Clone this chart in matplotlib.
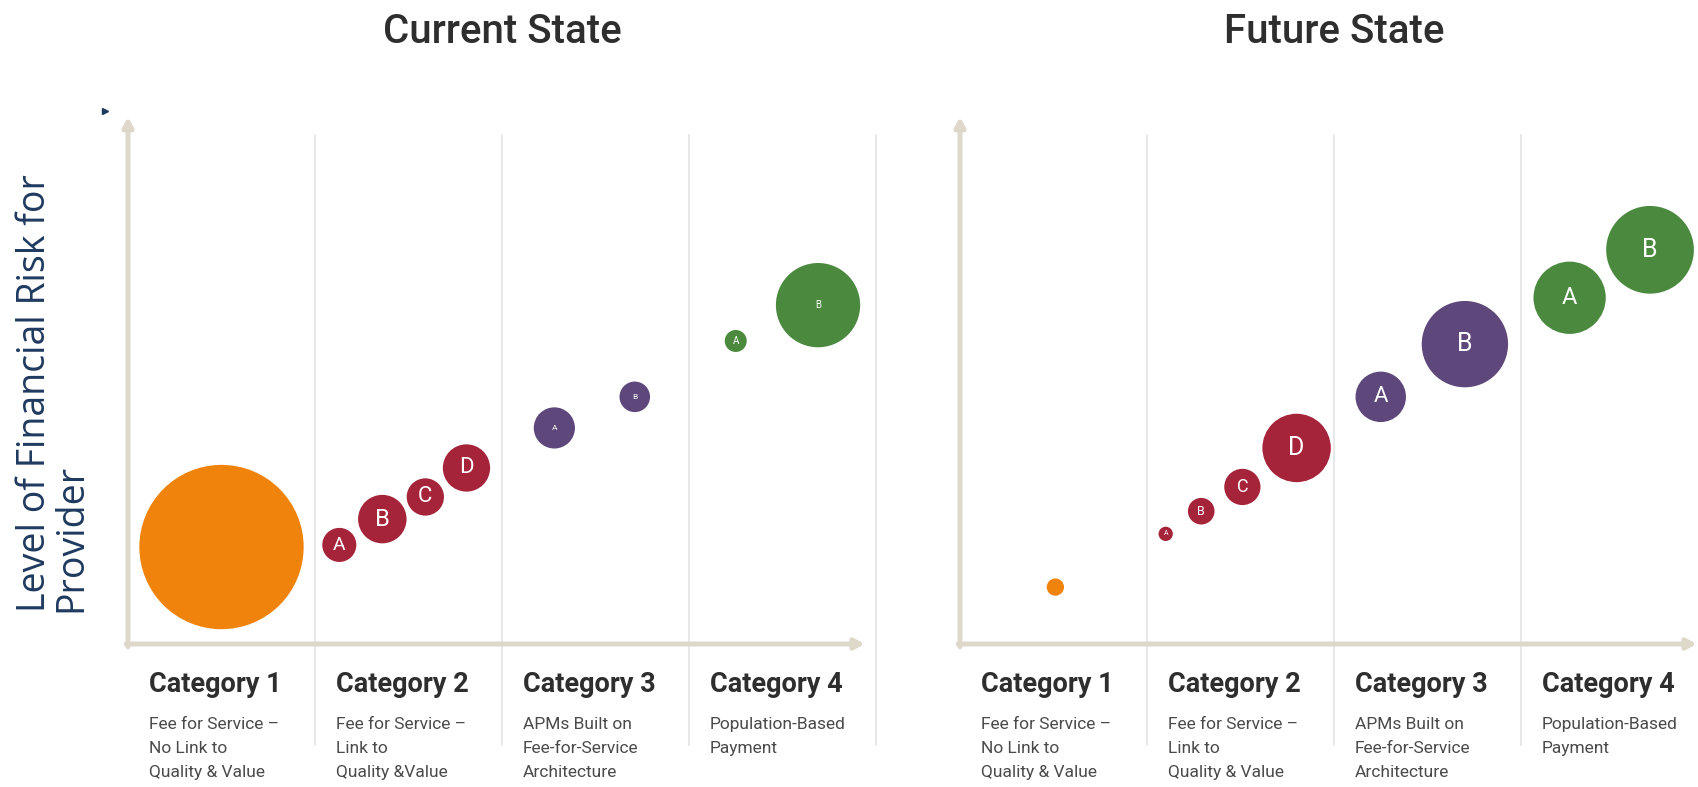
import matplotlib
matplotlib.use("Agg")
import matplotlib.pyplot as plt

# Categories along the horizontal axis
categories = ["Category 1", "Category 2", "Category 3", "Category 4"]
cur_descriptions = [
    "Fee for Service –\nNo Link to\nQuality & Value",
    "Fee for Service –\nLink to\nQuality &Value",
    "APMs Built on\nFee-for-Service\nArchitecture",
    "Population-Based\nPayment",
]
fut_descriptions = [
    "Fee for Service –\nNo Link to\nQuality & Value",
    "Fee for Service –\nLink to\nQuality & Value",
    "APMs Built on\nFee-for-Service\nArchitecture",
    "Population-Based\nPayment",
]

# One bubble per payment sub-type (category index 0..3 + letter)
bubble_group = [0, 1, 1, 1, 1, 2, 2, 3, 3]
bubble_labels = ["", "A", "B", "C", "D", "A", "B", "A", "B"]

# Current state: position on the category scale, risk level, bubble volume
cur_x = [0.50, 1.13, 1.36, 1.59, 1.81, 2.28, 2.71, 3.25, 3.69]
cur_risk = [1.84, 1.88, 2.37, 2.79, 3.34, 4.10, 4.69, 5.75, 6.43]
cur_volume = [69.0, 3.2, 6.3, 3.8, 6.0, 4.6, 2.6, 1.4, 18.5]

# Future state
fut_x = [0.51, 1.10, 1.29, 1.51, 1.80, 2.25, 2.70, 3.26, 3.69]
fut_risk = [1.08, 2.09, 2.52, 2.98, 3.72, 4.69, 5.69, 6.57, 7.48]
fut_volume = [0.9, 0.64, 2.0, 3.6, 12.3, 6.8, 19.4, 13.7, 20.0]

# Styling
GROUP_COLORS = ["#F0830C", "#A5243A", "#5E477A", "#4B8A3E"]
AXIS_COLOR = "#DDD8CA"
GRID_COLOR = "#E2E2E2"
TEXT_COLOR = "#2E2E2E"
SUB_COLOR = "#4A4A4A"
NAVY = "#1F3A5F"
SIZE_SCALE = 207.0  # marker area (pt^2) per unit of volume
LINE_STEP = 0.455   # spacing of description lines, in risk units
cur_label_pt = [0, 14, 17, 16, 16, 6, 6, 7, 7]
fut_label_pt = [0, 5, 9, 13, 18, 16, 18, 17, 18]


def draw_panel(ax, title, xs, risks, volumes, label_pt, descriptions):
    ax.set_xlim(0, 4)
    ax.set_ylim(0, 10)
    ax.axis("off")

    # vertical separators between categories
    for i in range(1, 5):
        ax.plot([i, i], [-1.92, 9.66], color=GRID_COLOR, lw=1.1,
                clip_on=False, zorder=0)

    # axis arrows
    arrow = dict(arrowstyle="-|>,head_length=0.55,head_width=0.3",
                 color=AXIS_COLOR, lw=3.6, shrinkA=0, shrinkB=0)
    ax.annotate("", xy=(0, 10), xytext=(0, -0.05), arrowprops=arrow,
                annotation_clip=False, zorder=1)
    ax.annotate("", xy=(3.94, 0), xytext=(-0.01, 0), arrowprops=arrow,
                annotation_clip=False, zorder=1)

    colors = [GROUP_COLORS[g] for g in bubble_group]
    sizes = [v * SIZE_SCALE for v in volumes]
    ax.scatter(xs, risks, s=sizes, c=colors, edgecolors="white",
               linewidths=1.2, zorder=3, clip_on=False)
    for x, y, lab, fs in zip(xs, risks, bubble_labels, label_pt):
        if lab:
            ax.text(x, y, lab, color="white", fontsize=fs, ha="center",
                    va="center", family="Roboto", zorder=4)

    for i, (cat, desc) in enumerate(zip(categories, descriptions)):
        ax.text(i + 0.11, -0.91, cat, fontsize=19.5, weight="bold",
                family="Roboto", color=TEXT_COLOR, ha="left", va="baseline",
                clip_on=False)
        for j, line in enumerate(desc.split("\n")):
            ax.text(i + 0.11, -1.61 - j * LINE_STEP, line, fontsize=12.5,
                    family="Roboto", color=SUB_COLOR, ha="left",
                    va="baseline", clip_on=False)

    ax.text(2, 11.61, title, fontsize=29, weight="medium", family="Roboto",
            color=TEXT_COLOR, ha="center", va="center", clip_on=False)


fig = plt.figure(figsize=(16.98, 7.87), dpi=100)
fig.patch.set_facecolor("white")

ax_cur = fig.add_axes([128 / 1698, 143 / 787, 748 / 1698, 527 / 787])
ax_fut = fig.add_axes([960 / 1698, 143 / 787, 748 / 1698, 527 / 787])

draw_panel(ax_cur, "Current State", cur_x, cur_risk, cur_volume,
           cur_label_pt, cur_descriptions)
draw_panel(ax_fut, "Future State", fut_x, fut_risk, fut_volume,
           fut_label_pt, fut_descriptions)

# y axis title shared by both panels
fig.text(53 / 1698, 1 - 612 / 787, "Level of Financial Risk for\nProvider",
         rotation=90, ha="center", va="bottom", multialignment="left",
         fontsize=27, family="Open Sans", color=NAVY, linespacing=0.95)

# small marker near the top of the first axis
fig.lines.append(plt.Line2D([105 / 1698], [1 - 111 / 787], marker=">",
                            markersize=4, color=NAVY, transform=fig.transFigure))

fig.savefig("out.png", dpi=100)
